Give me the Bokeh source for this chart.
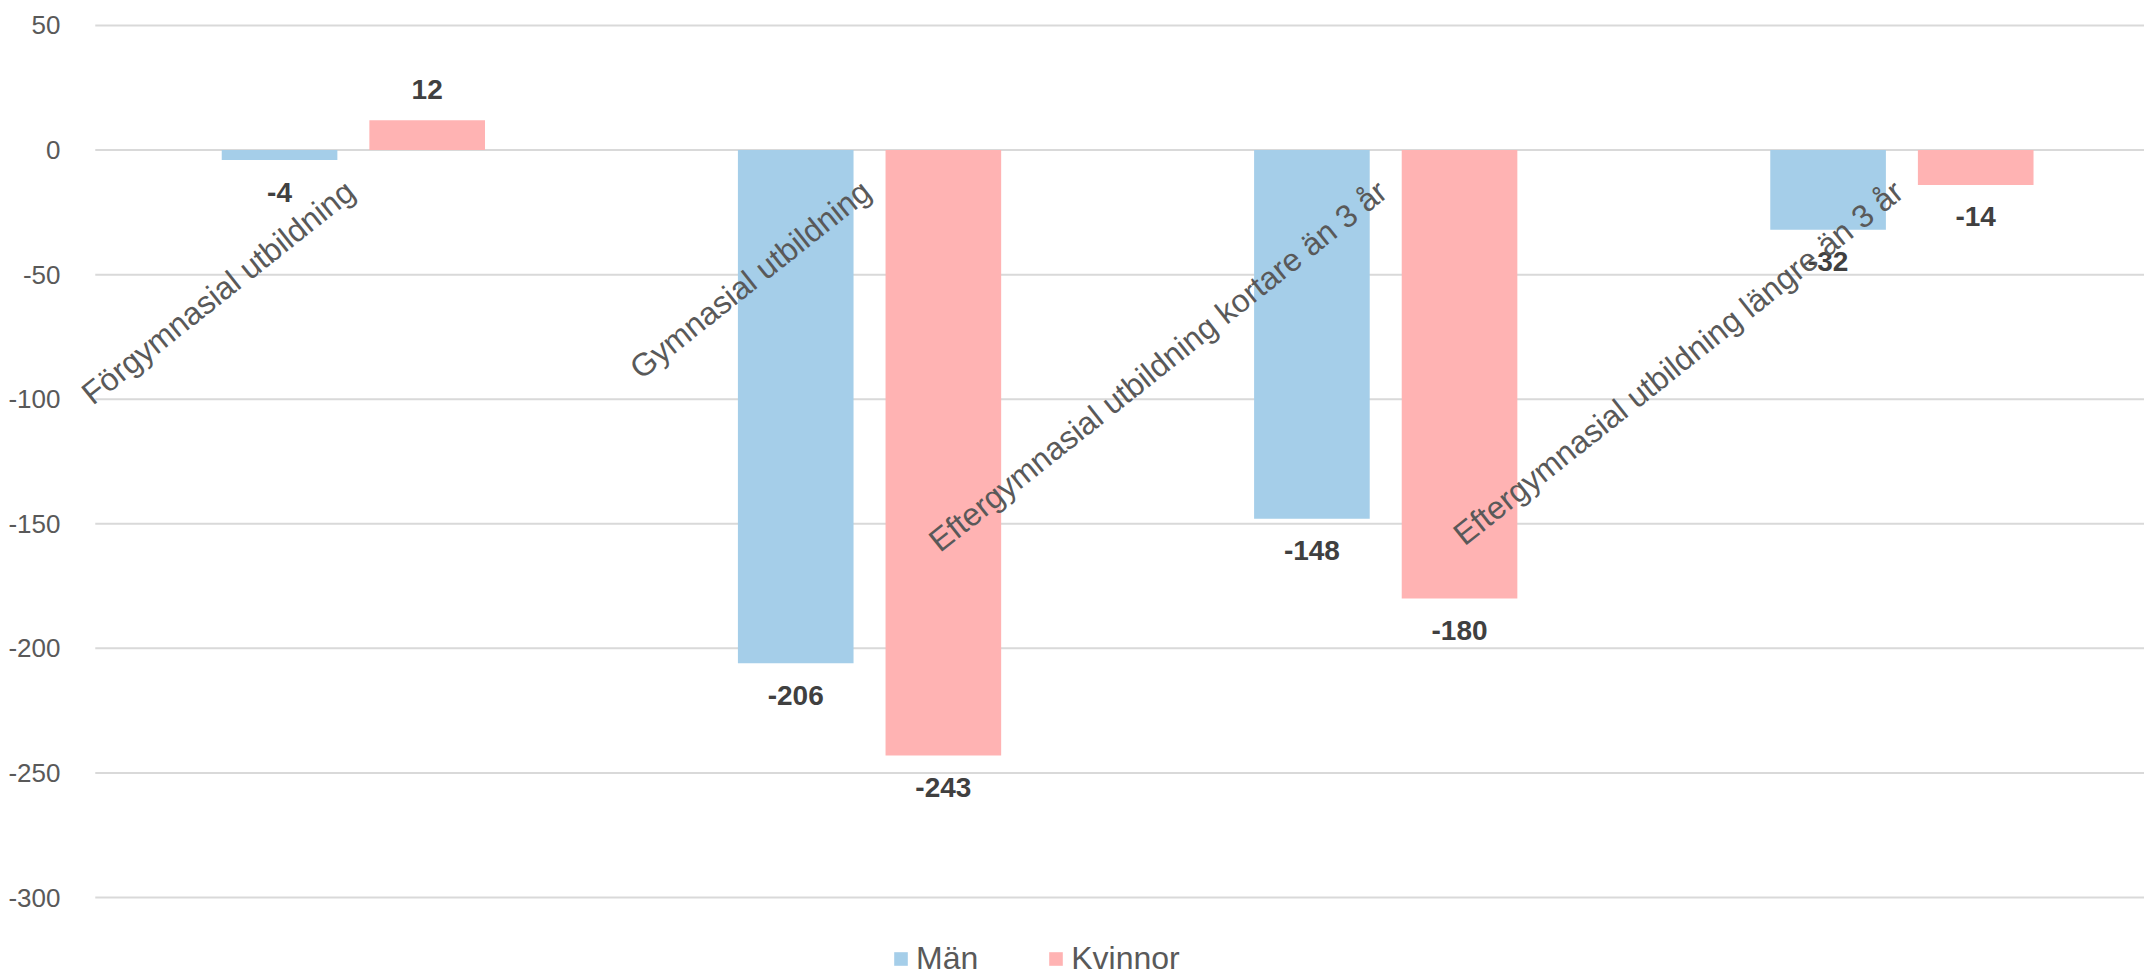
import numpy as np
from bokeh.plotting import figure
from bokeh.models import ColumnDataSource, Range1d, FixedTicker, Legend, LegendItem, PrintfTickFormatter
from bokeh.core.properties import value
from bokeh.embed import file_html
from bokeh.resources import INLINE

# ---- data ----
categories = ["Förgymnasial utbildning", "Gymnasial utbildning",
              "Eftergymnasial utbildning kortare än 3 år",
              "Eftergymnasial utbildning längre än 3 år"]
man = [-4, -206, -148, -32]
kvinnor = [12, -243, -180, -14]
y_ticks = [-300, -250, -200, -150, -100, -50, 0, 50]
series_names = ["Män", "Kvinnor"]

BLUE = "#A5CEE9"
PINK = "#FFB3B3"
FONT = "Liberation Sans"

idx = np.arange(len(categories))
dodge = 0.143
bar_w = 0.224

p = figure(width=2144, height=978, output_backend="svg", toolbar_location=None,
           x_range=Range1d(-0.548, 3.470), y_range=Range1d(-332.5, 50.8),
           min_border_left=70, min_border_right=0, min_border_top=23, min_border_bottom=0)
p.outline_line_color = None
p.background_fill_color = "white"
p.border_fill_color = "white"

p.xaxis.visible = False
p.xgrid.visible = False
p.ygrid.visible = False
p.yaxis.ticker = FixedTicker(ticks=y_ticks)
p.yaxis.formatter = PrintfTickFormatter(format="%d")
p.yaxis.axis_line_color = None
p.yaxis.major_tick_line_color = None
p.yaxis.minor_tick_line_color = None
p.yaxis.major_label_standoff = 4
p.yaxis.major_label_text_font = FONT
p.yaxis.major_label_text_font_size = "26px"
p.yaxis.major_label_text_color = "#595959"

# horizontal gridlines spanning the category bands
n = len(categories)
p.segment(x0=[-0.5] * len(y_ticks), x1=[n - 0.5] * len(y_ticks), y0=y_ticks, y1=y_ticks,
          line_color="#D9D9D9", line_width=2, level="underlay")

def offsets(vals):
    return [32 if v < 0 else -31 for v in vals]

src_m = ColumnDataSource(dict(x=idx - dodge, top=man, lab=[str(v) for v in man], off=offsets(man)))
src_k = ColumnDataSource(dict(x=idx + dodge, top=kvinnor, lab=[str(v) for v in kvinnor], off=offsets(kvinnor)))

r_m = p.vbar(x="x", top="top", bottom=0, width=bar_w, source=src_m,
             fill_color=BLUE, line_color=None)
r_k = p.vbar(x="x", top="top", bottom=0, width=bar_w, source=src_k,
             fill_color=PINK, line_color=None)

for src in (src_m, src_k):
    p.text(x="x", y="top", text="lab", source=src, y_offset="off",
           text_align="center", text_baseline="middle",
           text_font=value(FONT), text_font_style="bold",
           text_font_size="28px", text_color="#404040")

src_c = ColumnDataSource(dict(x=idx, y=[0] * n, t=categories))
p.text(x="x", y="y", text="t", source=src_c, angle=np.deg2rad(38.5),
       x_offset=-3, y_offset=37, text_align="right", text_baseline="middle",
       text_font=value(FONT), text_font_size="32px", text_color="#595959")

legend = Legend(items=[LegendItem(label=series_names[0], renderers=[r_m]),
                       LegendItem(label=series_names[1], renderers=[r_k])],
                orientation="horizontal", location=(822, 1),
                glyph_width=17, glyph_height=17, label_standoff=7, spacing=69,
                padding=0, margin=0, border_line_color=None,
                background_fill_alpha=0,
                label_text_font=FONT, label_text_font_size="32px",
                label_text_color="#595959")
p.add_layout(legend, "center")

open("out.html", "w").write(file_html(p, INLINE))
